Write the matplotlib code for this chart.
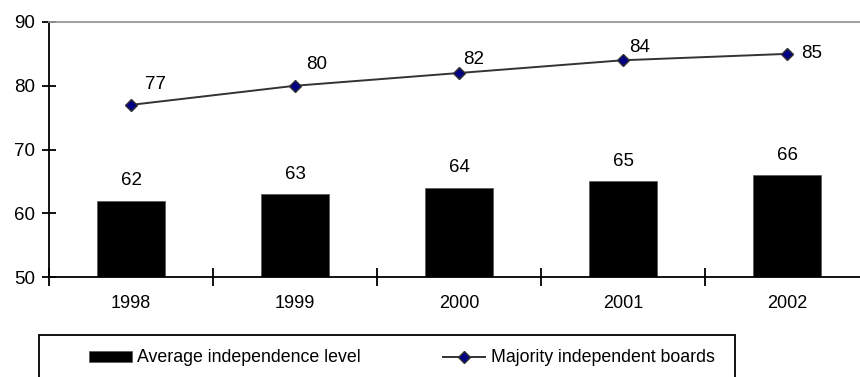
import matplotlib
matplotlib.use('Agg')
import numpy as np
import matplotlib.pyplot as plt
from matplotlib.patches import Rectangle

years = ['1998', '1999', '2000', '2001', '2002']
avg_independence = [62, 63, 64, 65, 66]
majority_boards = [77, 80, 82, 84, 85]

# label offsets (pixels) for the line data labels, placed by hand in the original
line_label_offsets = [(25, 20), (22, 21), (15, 14), (17, 13), (25, 0)]

plt.rcParams['font.family'] = ['Liberation Sans', 'DejaVu Sans']
plt.rcParams['font.size'] = 13

W, H = 860, 377
fig = plt.figure(figsize=(W / 100, H / 100), dpi=100)
ax = fig.add_axes([49 / W, 1 - 277 / H, 820 / W, 255 / H])

x = np.arange(len(years))
bars = ax.bar(x, [v - 50 for v in avg_independence], bottom=50, width=0.41,
              color='black', edgecolor='#555555', linewidth=0.5, zorder=2)
line, = ax.plot(x, majority_boards, color='#333333', lw=1.4, marker='D', ms=6.5,
                mfc='#000080', mec='#333333', mew=1.0, zorder=3)

for xi, v in zip(x, avg_independence):
    ax.annotate(str(v), (xi, v), xytext=(0, 20), textcoords='offset pixels',
                ha='center', va='center', fontsize=13.5)
for xi, v, off in zip(x, majority_boards, line_label_offsets):
    ax.annotate(str(v), (xi, v), xytext=off, textcoords='offset pixels',
                ha='center', va='center', fontsize=13.5)

ax.set_xlim(-0.5, len(years) - 0.5)
ax.set_ylim(50, 90)
ax.set_yticks([50, 60, 70, 80, 90])
ax.set_xticks(x)
ax.set_xticklabels(years)
ax.set_xticks(np.arange(-0.5, len(years)), minor=True)
ax.tick_params(axis='x', which='major', length=0, pad=13, labelsize=13)
ax.tick_params(axis='x', which='minor', direction='inout', length=13, width=1.3)
ax.tick_params(axis='y', direction='inout', length=10, width=1.3, pad=5, labelsize=13.5)

ax.spines['left'].set_linewidth(1.3)
ax.spines['bottom'].set_linewidth(1.3)
ax.spines['top'].set_color('#999999')
ax.spines['top'].set_linewidth(1.3)
ax.spines['right'].set_visible(False)

# legend frame runs past the bottom edge of the picture
fig.patches.append(Rectangle((39 / W, -0.2), (735 - 39) / W, 0.2 + 1 - 335 / H,
                             transform=fig.transFigure, fill=False,
                             ec='black', lw=1.3))
fig.legend([bars, line], ['Average independence level', 'Majority independent boards'],
           loc='center left', bbox_to_anchor=(89 / W, 1 - 358 / H),
           ncol=2, frameon=False, borderpad=0, borderaxespad=0,
           handlelength=2.4, handleheight=0.6, handletextpad=0.3,
           columnspacing=4.6, fontsize=12.8)

fig.savefig('out.png', dpi=100)
